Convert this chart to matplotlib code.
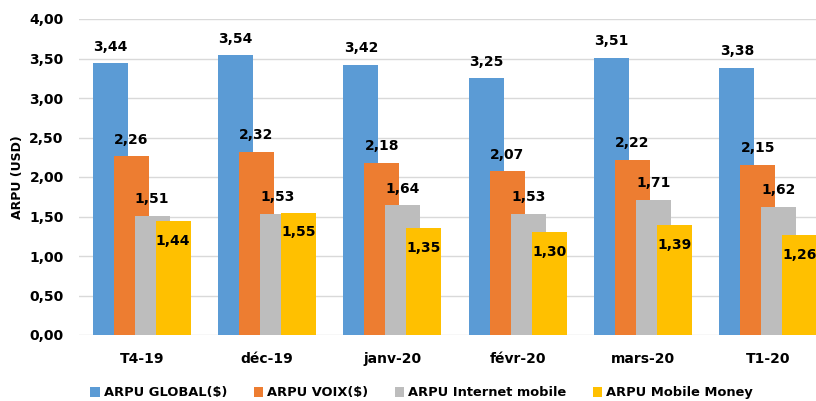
import matplotlib.pyplot as plt
import numpy as np

# --- data ---
categories = ["T4-19", "déc-19", "janv-20", "févr-20", "mars-20", "T1-20"]
arpu_global = [3.44, 3.54, 3.42, 3.25, 3.51, 3.38]
arpu_voix = [2.26, 2.32, 2.18, 2.07, 2.22, 2.15]
arpu_internet = [1.51, 1.53, 1.64, 1.53, 1.71, 1.62]
arpu_momo = [1.44, 1.55, 1.35, 1.30, 1.39, 1.26]

series_names = ["ARPU GLOBAL($)", "ARPU VOIX($)", "ARPU Internet mobile", "ARPU Mobile Money"]
colors = ["#5B9BD5", "#ED7D31", "#BDBDBD", "#FFC000"]

plt.rcParams['font.family'] = ['DejaVu Sans']
plt.rcParams['font.weight'] = 'bold'


def fmt(v):
    return f"{v:.2f}".replace(".", ",")


fig = plt.figure(figsize=(8.16, 4.01), dpi=100)
# axes is wider than the figure on the right (last group is cut off in the original)
ax = fig.add_axes([79 / 816, 1 - 335 / 401, (831 - 79) / 816, (335 - 19) / 401])

x = np.arange(len(categories))
width = 0.28
step = 0.167
all_series = [arpu_global, arpu_voix, arpu_internet, arpu_momo]

for i, (vals, col, name) in enumerate(zip(all_series, colors, series_names)):
    pos = x + (i - 1.5) * step
    ax.bar(pos, vals, width, color=col, label=name, zorder=2 + i)
    for p, v in zip(pos, vals):
        if i == 3:
            # yellow labels sit inside the bar top
            ax.annotate(fmt(v), (p, v), xytext=(0, -14), textcoords="offset points",
                        ha="center", va="center", fontsize=10, fontweight="bold", zorder=10)
        else:
            ax.annotate(fmt(v), (p, v), xytext=(0, 12), textcoords="offset points",
                        ha="center", va="center", fontsize=10, fontweight="bold", zorder=10)

ax.set_xlim(-0.5, len(categories) - 0.5)
ax.set_ylim(0, 4)
ax.set_yticks(np.arange(0, 4.01, 0.5))
ax.set_yticklabels([fmt(t) for t in np.arange(0, 4.01, 0.5)], fontsize=10, fontweight="bold")
ax.set_xticks(x)
ax.set_xticklabels(categories, fontsize=10, fontweight="bold")
ax.tick_params(length=0, pad=12, axis="x")
ax.tick_params(length=0, pad=11, axis="y")
ax.set_ylabel("ARPU (USD)", fontsize=9, fontweight="bold", labelpad=4)

ax.grid(True, axis="y", color="#D9D9D9", linewidth=1, zorder=0)
ax.set_axisbelow(True)
for s in ax.spines.values():
    s.set_visible(False)

fig.legend(loc="center", bbox_to_anchor=(0.517, 0.02), ncol=4, frameon=False,
           handlelength=0.75, handleheight=0.75, handletextpad=0.3, columnspacing=2.0,
           prop={"size": 9.4, "weight": "bold"})

plt.savefig("out.png", dpi=100, facecolor="white")
